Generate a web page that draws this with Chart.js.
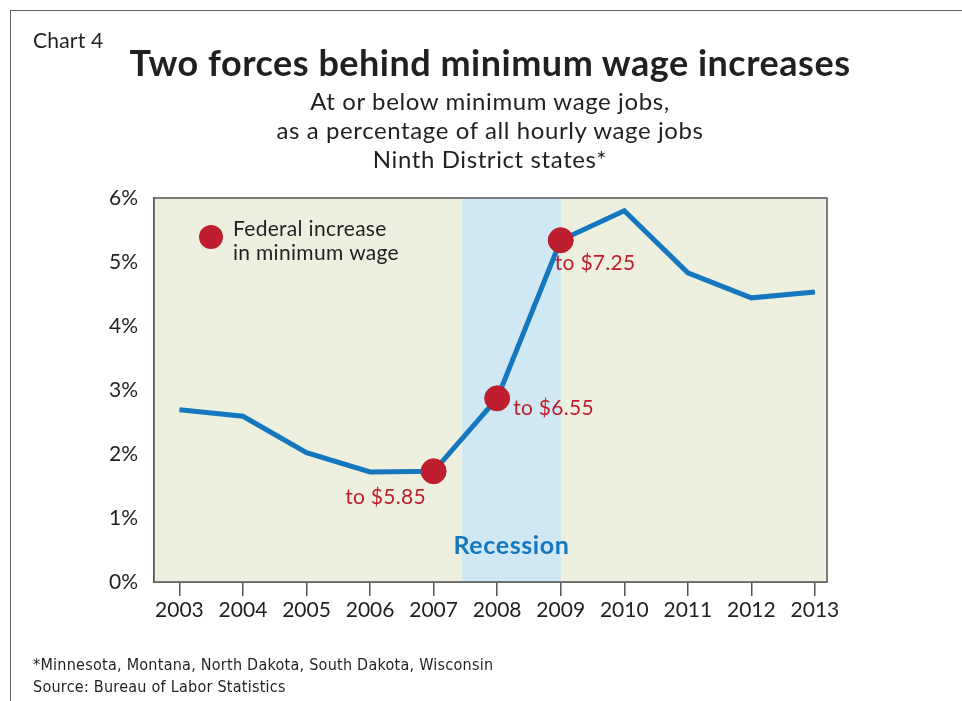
<!DOCTYPE html>
<html>
<head>
<meta charset="utf-8">
<script src="https://cdn.jsdelivr.net/npm/chart.js@4.4.0/dist/chart.umd.min.js"></script>
<style>
body{margin:0;background:#fff;font-family:Lato,"Open Sans",sans-serif;color:#231f20}
#wrap{position:relative;width:962px;height:701px;overflow:hidden}
#frame{position:absolute;left:10px;top:10px;width:980px;height:720px;border-left:1.5px solid #666;border-top:1.5px solid #666}
canvas{position:absolute;left:0;top:0}
.t{position:absolute;white-space:nowrap}
#chartno{left:33px;top:27px;font-size:21px;letter-spacing:0.2px}
#title{left:0;width:980px;text-align:center;top:42px;font-size:36px;font-weight:bold;line-height:40px;letter-spacing:0.5px}
#sub{left:0;width:980px;text-align:center;top:86px;font-size:24px;line-height:29px;letter-spacing:0.6px}
#foot{left:33px;top:654px;font-family:"Liberation Sans Narrow","DejaVu Sans Condensed",sans-serif;font-size:16px;line-height:22px;letter-spacing:0.25px}
</style>
</head>
<body>
<div id="wrap">
<div id="frame"></div>
<canvas id="myChart" width="962" height="701"></canvas>
<div class="t" id="chartno">Chart 4</div>
<div class="t" id="title">Two forces behind minimum wage increases</div>
<div class="t" id="sub">At or below minimum wage jobs,<br>as a percentage of all hourly wage jobs<br>Ninth District states*</div>
<div class="t" id="foot">*Minnesota, Montana, North Dakota, South Dakota, Wisconsin<br>Source: Bureau of Labor Statistics</div>
</div>
<script>
// data
const years = [2003, 2004, 2005, 2006, 2007, 2008, 2009, 2010, 2011, 2012, 2013];
const share = [2.69, 2.59, 2.02, 1.72, 1.73, 2.87, 5.34, 5.80, 4.83, 4.44, 4.53];
const hikeYears = [2007, 2008, 2009];
const hikeLabels = ['to $5.85', 'to $6.55', 'to $7.25'];
const yTicks = [0, 1, 2, 3, 4, 5, 6];
const recession = [2007.45, 2009.0];

const BLUE = '#1577bd', RED = '#be1e2d', INK = '#231f20';
const FONT = 'Lato, "Open Sans", sans-serif';

const hikeVals = hikeYears.map(y => share[years.indexOf(y)]);

// offsets of the "to $x.xx" labels from their dots (px)
const labelPos = [
    {dx: -48, dy: 26, align: 'center'},
    {dx: 16, dy: 10, align: 'left'},
    {dx: -6, dy: 23, align: 'left'}
];

const decor = {
    id: 'decor',
    beforeDatasetsDraw(chart) {
        const {ctx, chartArea: a, scales: {x}} = chart;
        ctx.save();
        ctx.fillStyle = '#edefdf';
        ctx.fillRect(a.left, a.top, a.width, a.height);
        const x0 = x.getPixelForValue(recession[0]);
        const x1 = x.getPixelForValue(recession[1]);
        ctx.fillStyle = '#cfe8f3';
        ctx.fillRect(x0, a.top, x1 - x0, a.height);
        ctx.fillStyle = BLUE;
        ctx.font = 'bold 25px ' + FONT;
        ctx.letterSpacing = '0.6px';
        ctx.textAlign = 'center';
        ctx.textBaseline = 'middle';
        ctx.fillText('Recession', (x0 + x1) / 2, a.bottom - 36);
        ctx.letterSpacing = '0px';
        ctx.strokeStyle = '#555';
        ctx.lineWidth = 1.5;
        ctx.strokeRect(a.left, a.top, a.width, a.height);
        ctx.restore();
    },
    afterDatasetsDraw(chart) {
        const {ctx, chartArea: a, scales: {x, y}} = chart;
        ctx.save();
        ctx.font = '21px ' + FONT;
        ctx.letterSpacing = '0.3px';
        ctx.textBaseline = 'middle';
        ctx.fillStyle = RED;
        hikeYears.forEach((yr, i) => {
            const p = labelPos[i];
            ctx.textAlign = p.align;
            ctx.fillText(hikeLabels[i], x.getPixelForValue(yr) + p.dx, y.getPixelForValue(hikeVals[i]) + p.dy);
        });
        // legend
        ctx.beginPath();
        ctx.arc(a.left + 57, a.top + 39, 12, 0, Math.PI * 2);
        ctx.fill();
        ctx.fillStyle = INK;
        ctx.textAlign = 'left';
        ctx.fillText('Federal increase', a.left + 79, a.top + 31);
        ctx.fillText('in minimum wage', a.left + 79, a.top + 55);
        ctx.restore();
    }
};

new Chart(document.getElementById('myChart'), {
    type: 'line',
    data: {
        datasets: [
            {
                type: 'scatter',
                data: hikeYears.map((yr, i) => ({x: yr, y: hikeVals[i]})),
                backgroundColor: RED,
                borderColor: RED,
                pointRadius: 12.5,
                order: 0
            },
            {
                data: years.map((yr, i) => ({x: yr, y: share[i]})),
                borderColor: BLUE,
                borderWidth: 5,
                pointRadius: 0,
                tension: 0,
                borderJoinStyle: 'miter',
                order: 1
            }
        ]
    },
    plugins: [decor],
    options: {
        responsive: false,
        animation: false,
        events: [],
        layout: {padding: {left: 108, right: 135, top: 198, bottom: 72}},
        plugins: {legend: {display: false}, tooltip: {enabled: false}},
        scales: {
            x: {
                type: 'linear',
                min: 2002.6,
                max: 2013.19,
                afterBuildTicks: s => { s.ticks = years.map(v => ({value: v})); },
                afterFit: s => { s.height = 47; },
                ticks: {color: INK, font: {size: 21, family: FONT}, padding: 2, callback: v => String(v), maxRotation: 0, autoSkip: false},
                grid: {drawOnChartArea: false, drawTicks: true, tickLength: 14, color: '#555', lineWidth: 1.5},
                border: {display: true, color: '#555', width: 1.5}
            },
            y: {
                min: 0,
                max: 6,
                afterBuildTicks: s => { s.ticks = yTicks.map(v => ({value: v})); },
                afterFit: s => { s.width = 46; },
                ticks: {color: INK, font: {size: 21, family: FONT}, padding: 8, callback: v => v + '%'},
                grid: {display: false},
                border: {display: true, color: '#555', width: 1.5}
            }
        }
    }
});
</script>
</body>
</html>
